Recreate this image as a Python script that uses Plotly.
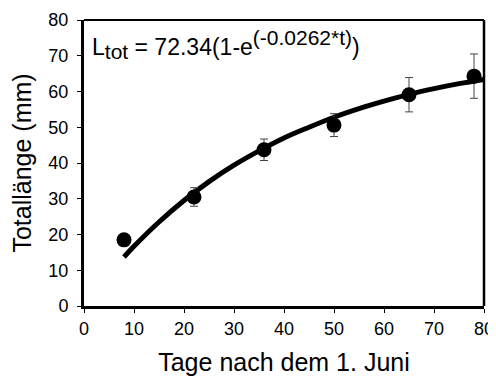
import plotly.graph_objects as go

# Observed data
days = [8, 22, 36, 50, 65, 78]
length_mm = [18.5, 30.5, 43.7, 50.6, 59.1, 64.3]
err_mm = [1.0, 2.6, 3.0, 3.2, 4.8, 6.2]

# Fitted curve values
curve_days = [8, 10, 15, 20, 25, 30, 35, 40, 45, 50, 55, 60, 65, 70, 75, 80]
curve_len = [13.7, 16.7, 23.5, 29.5, 34.8, 39.4, 43.4, 47.0, 50.0, 52.8, 55.2, 57.3, 59.2, 60.8, 62.2, 63.4]

x_ticks = [0, 10, 20, 30, 40, 50, 60, 70, 80]
y_ticks = [0, 10, 20, 30, 40, 50, 60, 70, 80]

font_family = "Liberation Sans, Arial, sans-serif"

fig = go.Figure()
fig.add_trace(go.Scatter(
    x=curve_days, y=curve_len, mode="lines",
    line=dict(color="black", width=5, shape="spline"),
    hoverinfo="skip", showlegend=False))
fig.add_trace(go.Scatter(
    x=days, y=length_mm, mode="markers",
    marker=dict(color="black", size=15),
    error_y=dict(type="data", array=err_mm, color="#444444", thickness=1, width=4),
    showlegend=False))

fig.add_annotation(
    x=0, y=80, xref="x", yref="y", xanchor="left", yanchor="top",
    xshift=6, yshift=-4,
    text=("L<sub><span style='font-size:21px'>tot</span></sub> = 72.34(1-e"
          "<sup><span style='font-size:21px'>(-0.0262*t)</span></sup>)"),
    showarrow=False, font=dict(family=font_family, size=23, color="black"))

# box top/right lines
fig.add_shape(type="line", xref="paper", yref="paper", x0=0, x1=1, y0=1, y1=1,
              line=dict(color="black", width=2))
fig.add_shape(type="line", xref="paper", yref="paper", x0=1, x1=1, y0=0, y1=1,
              line=dict(color="black", width=2.5))

# page body has an 8px margin, so the figure is sized to end at the window edge
fig.update_layout(
    width=488, height=368,
    margin=dict(l=76, r=12, t=12, b=70),
    paper_bgcolor="white", plot_bgcolor="white",
    font=dict(family=font_family, color="black", size=18),
)
fig.update_xaxes(
    range=[0, 80], tickvals=x_ticks, ticks="outside", ticklen=4, tickcolor="black",
    showline=True, linecolor="black", linewidth=3, showgrid=False, zeroline=False,
    tickfont=dict(size=18), automargin=False,
    title=dict(text="Tage nach dem 1. Juni", font=dict(size=25), standoff=22))
fig.update_yaxes(
    range=[0, 80], tickvals=y_ticks, ticks="outside", ticklen=4, tickcolor="black",
    showline=True, linecolor="black", linewidth=3, showgrid=False, zeroline=False,
    tickfont=dict(size=18), automargin=False, ticklabelstandoff=5,
    title=dict(text="Totallänge (mm)", font=dict(size=25), standoff=14))

fig.write_html("out.html")
